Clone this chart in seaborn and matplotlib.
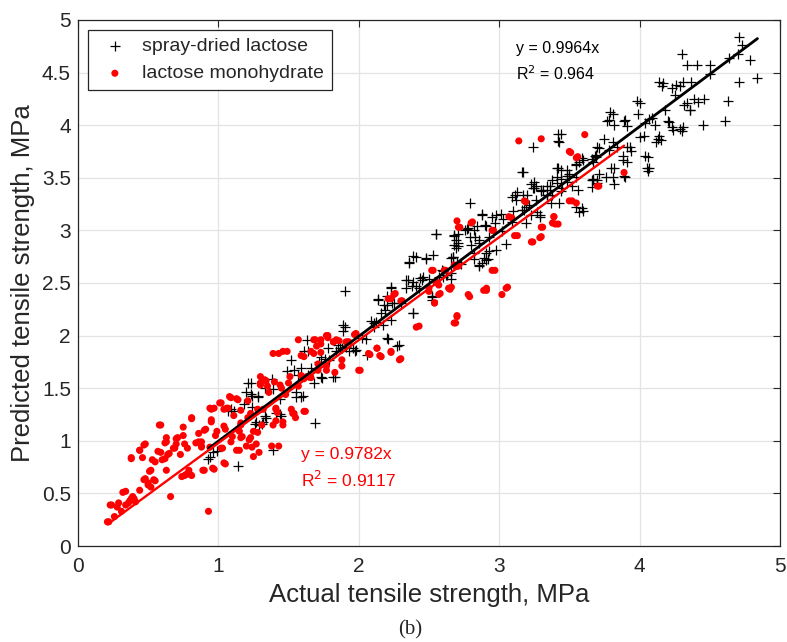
import numpy as np
import pandas as pd
import seaborn as sns
import matplotlib.pyplot as plt

# values: (actual, predicted) tensile strength, MPa
spray_pts = [
    (0.94, 0.85), (0.96, 0.89), (1.14, 0.76), (1.07, 1.28), (1.09, 1.30), (1.21, 1.55), (1.20, 1.46),
    (1.23, 1.44), (1.27, 1.18), (1.29, 1.15), (1.32, 1.18), (1.34, 1.22), (1.39, 0.91), (1.38, 1.59),
    (1.41, 1.26), (1.45, 1.24), (1.52, 1.77), (1.54, 1.67), (1.55, 1.46), (1.59, 1.42), (1.63, 1.96),
    (1.64, 1.85), (1.66, 1.69), (1.68, 1.55), (1.69, 1.17), (1.73, 1.61), (1.79, 1.77), (1.82, 1.61),
    (1.84, 1.85), (1.88, 1.88), (1.89, 2.10), (1.90, 2.42), (1.93, 1.85), (1.96, 1.88), (2.02, 1.98),
    (2.09, 2.14), (2.11, 2.08), (2.14, 2.35), (2.16, 2.21), (2.20, 2.29), (2.20, 1.98), (2.23, 2.45),
    (2.25, 2.31), (2.27, 1.90), (2.30, 2.31), (2.34, 2.53), (2.36, 2.70), (2.38, 2.47), (2.39, 2.21),
    (2.39, 2.76), (2.43, 2.45), (2.45, 2.53), (2.48, 2.74), (2.50, 2.54), (2.52, 2.37), (2.55, 2.97),
    (2.59, 2.62), (2.63, 2.58), (2.66, 2.74), (2.68, 2.95), (2.68, 2.86), (2.70, 2.70), (2.73, 2.68),
    (2.77, 3.01), (2.79, 3.26), (2.80, 2.86), (2.82, 2.78), (2.86, 2.66), (2.88, 3.15), (2.89, 2.74),
    (2.93, 2.80), (2.98, 3.15), (3.02, 2.99), (3.05, 2.87), (3.09, 3.32), (3.13, 3.36), (3.16, 3.55),
    (3.18, 3.19), (3.20, 3.34), (3.21, 3.24), (3.23, 3.44), (3.24, 3.79), (3.25, 3.40), (3.27, 3.17),
    (3.30, 3.38), (3.34, 3.42), (3.38, 3.48), (3.41, 3.59), (3.42, 3.92), (3.42, 3.85), (3.45, 3.40),
    (3.48, 3.52), (3.52, 3.42), (3.55, 3.22), (3.57, 3.17), (3.55, 3.63), (3.59, 3.69), (3.66, 3.48),
    (3.68, 3.71), (3.70, 3.79), (3.71, 3.54), (3.75, 3.87), (3.77, 4.04), (3.79, 4.12), (3.80, 3.59),
    (3.82, 3.44), (3.88, 3.71), (3.89, 4.04), (3.89, 3.52), (3.91, 3.79), (3.98, 4.23), (4.00, 3.89),
    (4.04, 3.71), (4.05, 3.59), (4.07, 4.06), (4.11, 4.00), (4.13, 3.87), (4.14, 4.41), (4.16, 4.37),
    (4.18, 4.14), (4.20, 4.04), (4.23, 3.98), (4.25, 4.29), (4.29, 3.96), (4.29, 4.37), (4.30, 4.68),
    (4.32, 4.19), (4.34, 4.57), (4.36, 4.14), (4.39, 4.25), (4.41, 4.57), (4.45, 4.00), (4.46, 4.25),
    (4.50, 4.57), (4.50, 4.49), (4.61, 4.04), (4.63, 4.23), (4.64, 4.64), (4.70, 4.68), (4.71, 4.84),
    (4.71, 4.41), (4.79, 4.62), (4.84, 4.45), (4.73, 4.76), (4.23, 4.35),
    (0.93, 0.83), (0.99, 0.90), (1.11, 1.28), (1.24, 1.43), (1.28, 1.42), (1.26, 1.16), (1.61, 1.85),
    (1.78, 1.88), (1.73, 1.80), (1.72, 1.75), (1.76, 1.78), (1.59, 1.69), (1.49, 1.66), (1.57, 1.63),
    (1.64, 1.63), (1.74, 1.60), (1.83, 1.61), (1.23, 1.55), (1.33, 1.50), (1.28, 1.43), (1.39, 1.49),
    (1.44, 1.40), (1.55, 1.42), (1.60, 1.43), (1.18, 1.35), (1.24, 1.32), (1.33, 1.24), (1.44, 1.25),
    (1.31, 1.16), (1.91, 1.89), (1.97, 1.85), (2.06, 1.82), (2.11, 2.12), (2.68, 2.96), (2.71, 2.88),
    (2.69, 2.83), (2.76, 3.00), (2.82, 3.00), (2.90, 3.05), (2.83, 2.94), (2.86, 2.88), (2.91, 2.78),
    (2.41, 2.75), (2.48, 2.73), (2.53, 2.77), (2.36, 2.69), (2.67, 2.75), (2.82, 2.73), (2.88, 2.69),
    (2.91, 2.72), (2.35, 2.53), (2.39, 2.51), (2.44, 2.55), (2.46, 2.56), (2.34, 2.45), (2.41, 2.47),
    (2.23, 2.46), (2.20, 2.38), (2.14, 2.34), (2.18, 2.29), (2.24, 2.31), (2.19, 2.24), (2.12, 2.13),
    (2.17, 2.10), (2.23, 2.15), (2.39, 2.21), (2.52, 2.38), (2.52, 2.34), (2.60, 2.56), (2.66, 2.54),
    (1.90, 2.08), (1.89, 2.04), (1.85, 1.91), (1.87, 1.88), (1.98, 1.86), (2.05, 1.97), (2.21, 1.97),
    (2.29, 1.91), (3.69, 3.70), (3.67, 3.65), (3.60, 3.67), (3.42, 3.59), (3.44, 3.57), (3.50, 3.54),
    (3.55, 3.51), (3.48, 3.46), (3.41, 3.45), (3.67, 3.48), (3.70, 3.45), (3.66, 3.41), (3.17, 3.55),
    (3.25, 3.46), (3.24, 3.40), (3.31, 3.38), (3.36, 3.42), (3.38, 3.34), (3.34, 3.34), (3.26, 3.29),
    (3.17, 3.34), (3.11, 3.34), (3.12, 3.29), (3.19, 3.22), (3.16, 3.19), (3.10, 3.18), (3.23, 3.15),
    (3.29, 3.13), (3.44, 3.37), (3.37, 3.26), (3.43, 3.26), (3.59, 3.21), (3.60, 3.18), (2.88, 3.16),
    (2.95, 3.13), (3.01, 3.16), (3.03, 3.11), (2.84, 3.04), (2.91, 3.04), (2.97, 3.07), (3.09, 3.08),
    (3.19, 3.07), (2.71, 2.97), (2.69, 2.91), (2.71, 2.85), (2.78, 3.02), (2.79, 2.94), (2.86, 2.91),
    (2.93, 2.94), (2.98, 2.81), (2.92, 2.73), (2.86, 2.67), (2.67, 2.75), (2.60, 2.61), (2.66, 2.59),
    (2.57, 2.56), (2.55, 2.97), (2.62, 2.58), (4.17, 4.40), (4.26, 4.38), (4.31, 4.41), (4.37, 4.41),
    (4.00, 4.21), (3.99, 4.11), (3.81, 4.11), (3.78, 4.05), (3.82, 4.00), (3.90, 4.05), (3.91, 3.99),
    (4.09, 4.07), (4.04, 4.02), (4.21, 4.03), (4.24, 3.95), (4.31, 3.98), (4.30, 3.94), (4.34, 4.21),
    (4.36, 4.14), (4.42, 4.22), (4.03, 3.90), (4.14, 3.90), (4.15, 3.86), (4.12, 3.84), (4.06, 3.70),
    (4.07, 3.59), (4.06, 3.56), (3.44, 3.92), (3.43, 3.84), (3.71, 3.78), (3.69, 3.72), (3.81, 3.84),
    (3.84, 3.79), (3.78, 3.76), (3.93, 3.79), (3.94, 3.75), (3.88, 3.67), (3.91, 3.65), (3.82, 3.59),
    (3.66, 3.68), (3.57, 3.65), (3.55, 3.62), (3.48, 3.57), (3.41, 3.51), (3.44, 3.49), (3.50, 3.52),
    (3.67, 3.49), (3.70, 3.48), (3.76, 3.51), (3.81, 3.51), (3.90, 3.51), (3.26, 3.42), (3.30, 3.37),
    (3.36, 3.38), (3.34, 3.34), (3.56, 3.38), (3.29, 3.15),
]

mono_pts = [
    (0.21, 0.23), (0.23, 0.39), (0.28, 0.37), (0.29, 0.41), (0.32, 0.51), (0.34, 0.39), (0.37, 0.43),
    (0.39, 0.47), (0.40, 0.45), (0.38, 0.84), (0.44, 0.91), (0.48, 0.97), (0.46, 0.84), (0.48, 0.64),
    (0.50, 0.58), (0.52, 0.72), (0.52, 0.56), (0.55, 0.80), (0.55, 0.62), (0.58, 1.15), (0.59, 0.89),
    (0.60, 0.82), (0.63, 0.99), (0.63, 1.03), (0.64, 0.87), (0.63, 0.72), (0.66, 0.47), (0.68, 0.93),
    (0.70, 0.97), (0.71, 1.03), (0.73, 0.87), (0.75, 1.13), (0.76, 0.97), (0.77, 0.68), (0.79, 0.72),
    (0.81, 1.22), (0.80, 0.68), (0.86, 0.99), (0.88, 0.95), (0.89, 0.72), (0.91, 1.11), (0.93, 0.33),
    (0.95, 1.18), (0.95, 1.30), (0.96, 0.74), (0.98, 1.05), (1.01, 1.36), (1.02, 0.93), (1.04, 1.30),
    (1.05, 1.11), (1.05, 0.78), (1.08, 1.42), (1.09, 0.99), (1.11, 1.24), (1.13, 1.40), (1.13, 0.91),
    (1.14, 1.11), (1.16, 1.15), (1.16, 1.03), (1.20, 0.95), (1.21, 1.38), (1.21, 1.22), (1.23, 1.03),
    (1.25, 0.85), (1.27, 0.97), (1.29, 0.89), (1.30, 1.53), (1.30, 1.61), (1.31, 1.15), (1.32, 1.30),
    (1.34, 1.57), (1.36, 1.46), (1.38, 0.95), (1.39, 1.83), (1.39, 1.15), (1.41, 1.30), (1.43, 0.95),
    (1.44, 1.53), (1.46, 1.85), (1.46, 1.15), (1.48, 1.44), (1.50, 1.55), (1.51, 1.61), (1.54, 1.26),
    (1.55, 1.22), (1.57, 1.96), (1.57, 1.52), (1.59, 1.81), (1.61, 1.28), (1.63, 1.61), (1.66, 1.85),
    (1.68, 1.96), (1.70, 1.90), (1.71, 1.73), (1.73, 1.96), (1.77, 2.00), (1.77, 1.67), (1.82, 1.94),
    (1.84, 1.96), (1.88, 1.77), (1.91, 1.94), (1.98, 2.02), (2.00, 1.67), (2.07, 1.83), (2.13, 1.88),
    (2.15, 1.81), (2.23, 1.85), (2.29, 1.77), (2.21, 2.35), (2.25, 2.39), (2.30, 2.33), (2.41, 2.08),
    (2.50, 2.45), (2.52, 2.62), (2.54, 2.31), (2.55, 2.51), (2.57, 2.39), (2.61, 2.62), (2.64, 2.45),
    (2.68, 2.12), (2.70, 2.19), (2.70, 2.66), (2.70, 3.09), (2.71, 3.03), (2.78, 2.39), (2.80, 3.07),
    (2.89, 2.43), (2.95, 2.62), (2.95, 3.00), (3.02, 2.39), (3.05, 2.45), (3.07, 3.13), (3.11, 2.95),
    (3.14, 3.85), (3.18, 3.28), (3.23, 2.89), (3.29, 2.93), (3.30, 3.03), (3.30, 3.87), (3.38, 3.07),
    (3.39, 3.13), (3.40, 3.06), (3.50, 3.28), (3.52, 3.28), (3.55, 3.26), (3.50, 3.75), (3.55, 3.69),
    (3.61, 3.91), (3.70, 3.42), (3.89, 3.55),
    (1.69, 1.96), (1.73, 1.92), (1.78, 1.98), (1.92, 1.94), (1.97, 2.01), (1.43, 1.83), (1.49, 1.85),
    (1.61, 1.80), (1.68, 1.83), (1.73, 1.84), (1.88, 1.71), (1.83, 1.65), (2.01, 1.67), (1.30, 1.55),
    (1.35, 1.52), (1.40, 1.56), (1.45, 1.50), (1.33, 1.58), (1.59, 1.62), (1.61, 1.59), (1.66, 1.60),
    (1.71, 1.67), (1.77, 1.71), (1.09, 1.41), (1.14, 1.39), (1.02, 1.36), (1.06, 1.31), (0.97, 1.31),
    (1.41, 1.31), (1.42, 1.27), (1.52, 1.30), (1.53, 1.26), (1.62, 1.28), (1.16, 1.17), (1.23, 1.26),
    (1.28, 1.30), (1.41, 1.19), (1.46, 1.18), (0.99, 1.09), (1.04, 1.14), (1.25, 1.09), (1.28, 1.08),
    (2.53, 2.62), (2.61, 2.62), (2.68, 2.67), (2.71, 2.66), (2.55, 2.51), (2.57, 2.48), (2.50, 2.42),
    (2.58, 2.40), (2.54, 2.31), (2.65, 2.44), (2.79, 2.37), (2.91, 2.43), (2.23, 2.35), (2.26, 2.40),
    (2.31, 2.33), (2.70, 2.18), (2.69, 2.12), (2.43, 2.09), (1.78, 2.00), (1.82, 1.94), (1.86, 1.95),
    (1.93, 1.94), (1.98, 2.01), (2.08, 1.82), (2.13, 1.88), (2.16, 1.80), (2.23, 1.84), (2.30, 1.78),
    (3.51, 3.74), (3.56, 3.70), (3.71, 3.42), (3.19, 3.27), (3.39, 3.13), (3.42, 3.06), (3.31, 3.03),
    (3.30, 2.94), (3.24, 2.89), (3.13, 2.95), (3.09, 3.12), (2.96, 3.00), (2.81, 3.08), (2.72, 3.03),
    (2.97, 2.62), (2.62, 2.62), (2.69, 2.66), (2.56, 2.50), (2.66, 2.46), (2.91, 2.45), (3.06, 2.46),
    (1.07, 1.31), (1.16, 1.29), (0.94, 1.31), (0.95, 1.20), (0.81, 1.21), (0.59, 1.15), (0.75, 1.05),
    (0.86, 1.07), (0.90, 1.10), (0.70, 1.02), (0.62, 0.98), (0.47, 0.96), (0.44, 0.91), (0.38, 0.83),
    (0.57, 0.90), (0.65, 0.88), (0.69, 0.93), (0.78, 0.93), (0.84, 0.98), (0.88, 0.99), (0.88, 0.94),
    (0.94, 0.94), (1.03, 0.93), (1.10, 1.04), (1.15, 1.09), (1.17, 1.04), (1.22, 1.01), (1.24, 0.94),
    (1.15, 0.91), (1.04, 0.79), (0.90, 0.72), (0.97, 0.73), (0.76, 0.67), (0.81, 0.67), (0.74, 0.66),
    (0.53, 0.82), (0.62, 0.83), (0.51, 0.71), (0.47, 0.63), (0.50, 0.60), (0.54, 0.63), (0.44, 0.53),
    (0.34, 0.52), (0.38, 0.45), (0.41, 0.42), (0.36, 0.41), (0.24, 0.39), (0.31, 0.33), (0.26, 0.28),
    (0.22, 0.23),
]

spray_slope = 0.9964
mono_slope = 0.9782

spray = pd.DataFrame(spray_pts, columns=['actual', 'predicted'])
mono = pd.DataFrame(mono_pts, columns=['actual', 'predicted'])

sns.set_style('whitegrid')
plt.rcParams['font.family'] = ['Liberation Sans', 'DejaVu Sans']

fig, ax = plt.subplots(figsize=(7.87, 6.42), dpi=100)
fig.subplots_adjust(left=0.099, right=0.991, top=0.969, bottom=0.1495)

sns.scatterplot(data=spray, x='actual', y='predicted', marker='+', color='black', s=45,
                linewidth=0.9, label='spray-dried lactose', ax=ax, zorder=3)
sns.scatterplot(data=mono, x='actual', y='predicted', marker='o', color='red', s=26,
                edgecolor='none', label='lactose monohydrate', ax=ax, zorder=3)

# fitted lines through origin, over each data range
xs = np.array([spray['actual'].min(), spray['actual'].max()])
ax.plot(xs, spray_slope * xs, color='black', lw=2.0, zorder=4)
xm = np.array([mono['actual'].min(), mono['actual'].max()])
ax.plot(xm, mono_slope * xm, color='red', lw=1.7, zorder=5)

ax.text(3.12, 4.73, 'y = 0.9964x', fontsize=11.5, va='center', color='black')
ax.text(3.12, 4.49, r'R$^2$ = 0.964', fontsize=11.5, va='center', color='black')
ax.text(1.59, 0.87, 'y = 0.9782x', fontsize=12.5, va='center', color='red')
ax.text(1.59, 0.63, r'R$^2$ = 0.9117', fontsize=12.5, va='center', color='red')

ax.set_xlim(0, 5)
ax.set_ylim(0, 5)
ax.set_xticks(np.arange(0, 5.01, 1))
ax.set_yticks(np.arange(0, 5.01, 0.5))
ax.set_xticklabels(['0', '1', '2', '3', '4', '5'])
ax.set_yticklabels(['0', '0.5', '1', '1.5', '2', '2.5', '3', '3.5', '4', '4.5', '5'])
ax.tick_params(direction='in', length=5, width=0.8, top=True, right=True, labelsize=15,
               colors='#262626')
ax.tick_params(axis='x', pad=8)
ax.tick_params(axis='y', pad=5)
ax.grid(True, color='#e3e3e3', lw=0.9)
for sp in ax.spines.values():
    sp.set_color('#262626')
    sp.set_linewidth(0.9)

ax.set_xlabel('Actual tensile strength, MPa', fontsize=18.5, color='#262626', labelpad=5)
ax.set_ylabel('Predicted tensile strength, MPa', fontsize=18.5, color='#262626', labelpad=5)
fig.text(0.521, 0.012, '(b)', fontsize=15, family='Liberation Serif', ha='center')

leg = ax.legend(loc='upper left', fontsize=14, frameon=True, fancybox=False, framealpha=1,
                edgecolor='#262626', handletextpad=0.4, borderaxespad=0.5)
leg.get_frame().set_linewidth(0.9)

fig.savefig('out.png', dpi=100)
